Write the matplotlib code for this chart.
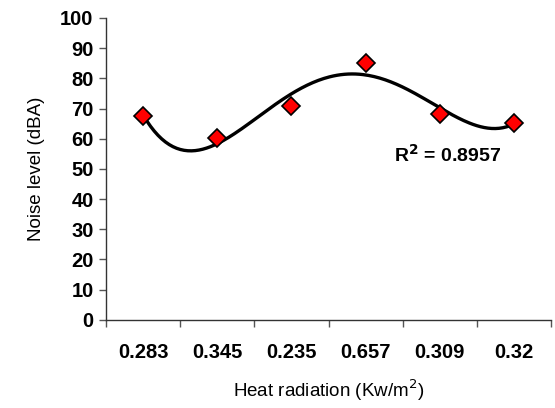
import numpy as np
import matplotlib
matplotlib.use("Agg")
import matplotlib.pyplot as plt

plt.rcParams['font.family'] = ['Liberation Sans', 'DejaVu Sans']

radiation = ["0.283", "0.345", "0.235", "0.657", "0.309", "0.32"]
noise = [67.5, 60.3, 71.0, 85.0, 68.3, 65.3]
y_ticks = [0, 10, 20, 30, 40, 50, 60, 70, 80, 90, 100]
r2_label = "R$^{\\mathbf{2}}$ = 0.8957"

x = np.arange(1, len(noise) + 1)

# 4th order polynomial trendline, as in the spreadsheet
coef = np.polyfit(x, noise, 4)
xs = np.linspace(1, len(noise), 200)
ys = np.polyval(coef, xs)

fig = plt.figure(figsize=(5.55, 4.08), dpi=100)
ax = fig.add_axes([0.191, 0.216, 0.802, 0.740])

ax.plot(xs, ys, color='black', lw=2.4, zorder=2)
ax.plot(x, noise, linestyle='none', marker='D', markersize=9,
        markerfacecolor='#ff0000', markeredgecolor='black', markeredgewidth=1.2, zorder=3)

ax.set_xlim(0.5, len(noise) + 0.5)
ax.set_ylim(0, 100)
ax.set_yticks(y_ticks)
ax.set_xticks(x)
ax.set_xticklabels(radiation)
ax.set_xticks(np.arange(0.5, len(noise) + 1), minor=True)
ax.tick_params(axis='x', which='major', length=0, pad=17, labelsize=14.5)
ax.tick_params(axis='x', which='minor', length=5, width=1, color='#555555', direction='out')
ax.tick_params(axis='y', length=5, width=1, color='#555555', direction='out', labelsize=14.5, pad=4)
for lab in ax.get_xticklabels() + ax.get_yticklabels():
    lab.set_fontweight('bold')

for side in ['top', 'right']:
    ax.spines[side].set_visible(False)
for side in ['left', 'bottom']:
    ax.spines[side].set_color('#333333')
    ax.spines[side].set_linewidth(1)

ax.set_xlabel("Heat radiation (Kw/m$^2$)", fontsize=13.5, labelpad=11)
ax.set_ylabel("Noise level (dBA)", fontsize=13.5, labelpad=11)

ax.text(5.11, 54.6, r2_label, ha='center', va='center', fontsize=14, fontweight='bold')

fig.savefig("out.png", dpi=100)
